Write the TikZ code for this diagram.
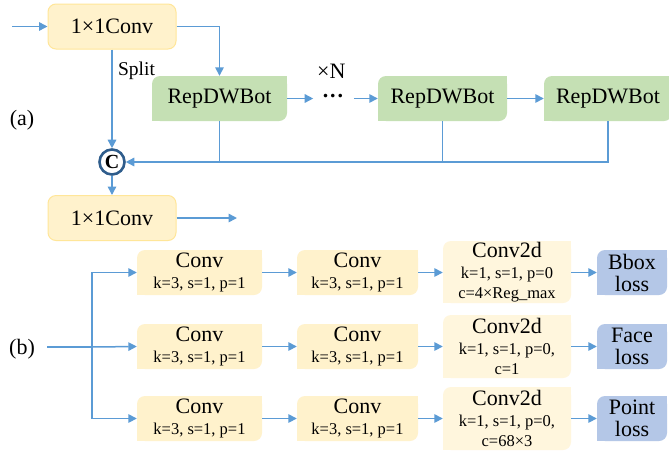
\documentclass[tikz,border=0pt]{standalone}
\usepackage{fontspec}
\setmainfont{Liberation Serif}
\usetikzlibrary{arrows.meta}

\definecolor{wire}{HTML}{5B9BD5}
\definecolor{convfill}{HTML}{FFF2CC}
\definecolor{convedge}{HTML}{FFE699}
\definecolor{repfill}{HTML}{C5E0B4}
\definecolor{headfill}{HTML}{FFF6DD}
\definecolor{lossfill}{HTML}{B4C7E7}
\definecolor{catring}{HTML}{2F5D8C}

% box with its top-left and bottom-right corners rounded:
% #1 name, #2 colour, #3 centre x, #4 centre y, #5 width, #6 height, #7 text
\newcommand\dbox[7]{%
  \fill[#2,rounded corners=8pt] ({#3-#5/2},{#4-#6/2}) rectangle ({#3+#5/2},{#4+#6/2});
  \fill[#2] (#3,{#4-#6/2}) rectangle ({#3+#5/2},#4);
  \fill[#2] ({#3-#5/2},#4) rectangle (#3,{#4+#6/2});
  \node[blk,minimum width=#5pt,minimum height=#6pt] (#1) at (#3,#4) {#7};}

\newcommand\subtxt[1]{{\fontsize{16.5}{17.5}\selectfont #1}}

\begin{document}
\begin{tikzpicture}[x=1pt,y=-1pt,
  wirestyle/.style={draw=wire,line width=1.5pt},
  arr/.style={wirestyle,-{Triangle[length=8.5pt,width=8.5pt]}},
  blk/.style={inner sep=0pt,align=center,font=\fontsize{22}{22}\selectfont},
  onebyone/.style={blk,minimum width=128pt,minimum height=45pt,
    fill=convfill,draw=convedge,line width=1pt,rounded corners=8pt},
  lbl/.style={inner sep=0pt,font=\fontsize{22}{22}\selectfont}
]
\useasboundingbox[fill=white] (0,0) rectangle (669,451);

% ---------------- (a) ----------------
\node[onebyone] (c1) at (112,26.5) {1×1Conv};
\dbox{r1}{repfill}{219.5}{98.5}{135}{45}{RepDWBot}
\dbox{r2}{repfill}{442.5}{98.5}{129}{45}{RepDWBot}
\dbox{r3}{repfill}{608}{98.5}{128}{45}{RepDWBot}
\node[lbl] (dots) at (333,96) {\textbf{.\kern2pt.\kern2pt.}};
\node[lbl,anchor=west] (rep) at (317,71) {×N};
\node[circle,draw=catring,line width=2.6pt,fill=white,minimum size=25pt,
  inner sep=0pt,font=\fontsize{20}{20}\selectfont\bfseries] (cat) at (112,162) {C};
\node[onebyone] (c2) at (112,218) {1×1Conv};
\node[lbl] (la) at (22,120) {(a)};
\coordinate (ain) at (12,26.5);
\coordinate (aout) at (237,218);

\draw[arr] (ain) -- (c1.west);
\draw[arr] (c1.east) -| (r1.north);
\draw[arr] (c1.south) -- node[pos=0.22,right=2pt,font=\fontsize{19.5}{20}\selectfont] {Split} (cat.north);
\draw[arr] (r1.east) -- ++(26,0);
\draw[arr] (r2.west) ++(-24,0) -- (r2.west);
\draw[arr] (r2.east) -- (r3.west);
\draw[wirestyle] (r1.south) -- (r1.south |- cat);
\draw[wirestyle] (r2.south) -- (r2.south |- cat);
\draw[arr] (r3.south) |- (cat.east);
\draw[arr] (cat.south) -- (c2.north);
\draw[arr] (c2.east) -- (aout);

% ---------------- (b) ----------------
\node[lbl] (lb) at (22,349) {(b)};
\coordinate (bin) at (47,347);
\coordinate (fork) at (92,347);

% branch 1
\dbox{a1}{convfill}{199.5}{272.5}{125}{45}{Conv\\[-1pt]\subtxt{k=3, s=1, p=1}}
\dbox{b1}{convfill}{357.5}{272.5}{121}{45}{Conv\\[-1pt]\subtxt{k=3, s=1, p=1}}
\dbox{h1}{headfill}{507}{272}{128}{62}{Conv2d\\[-1pt]\subtxt{k=1, s=1, p=0}\\[-2pt]\subtxt{c=4×Reg\_max}}
\dbox{l1}{lossfill}{632}{272.5}{70}{45}{Bbox\\loss}
% branch 2
\dbox{a2}{convfill}{199.5}{346.5}{125}{45}{Conv\\[-1pt]\subtxt{k=3, s=1, p=1}}
\dbox{b2}{convfill}{357.5}{346.5}{121}{45}{Conv\\[-1pt]\subtxt{k=3, s=1, p=1}}
\dbox{h2}{headfill}{507}{346.5}{128}{63}{Conv2d\\[-1pt]\subtxt{k=1, s=1, p=0,}\\[-2pt]\subtxt{c=1}}
\dbox{l2}{lossfill}{632}{346.5}{70}{45}{Face\\loss}
% branch 3
\dbox{a3}{convfill}{199.5}{418.5}{125}{45}{Conv\\[-1pt]\subtxt{k=3, s=1, p=1}}
\dbox{b3}{convfill}{357.5}{418.5}{121}{45}{Conv\\[-1pt]\subtxt{k=3, s=1, p=1}}
\dbox{h3}{headfill}{507}{418.5}{128}{63}{Conv2d\\[-1pt]\subtxt{k=1, s=1, p=0,}\\[-2pt]\subtxt{c=68×3}}
\dbox{l3}{lossfill}{632}{418.5}{70}{45}{Point\\loss}

\foreach \i in {1,2,3} {
  \draw[arr] (a\i.east) -- (b\i.west);
  \draw[arr] (b\i.east) -- (b\i.east -| h\i.west);
  \draw[arr] (h\i.east |- l\i.west) -- (l\i.west);
}

\draw[wirestyle] (bin) -- (fork);
\draw[arr] (fork) -- (a2.west);
\draw[arr] (fork) |- (a1.west);
\draw[arr] (fork) |- (a3.west);
\end{tikzpicture}
\end{document}
